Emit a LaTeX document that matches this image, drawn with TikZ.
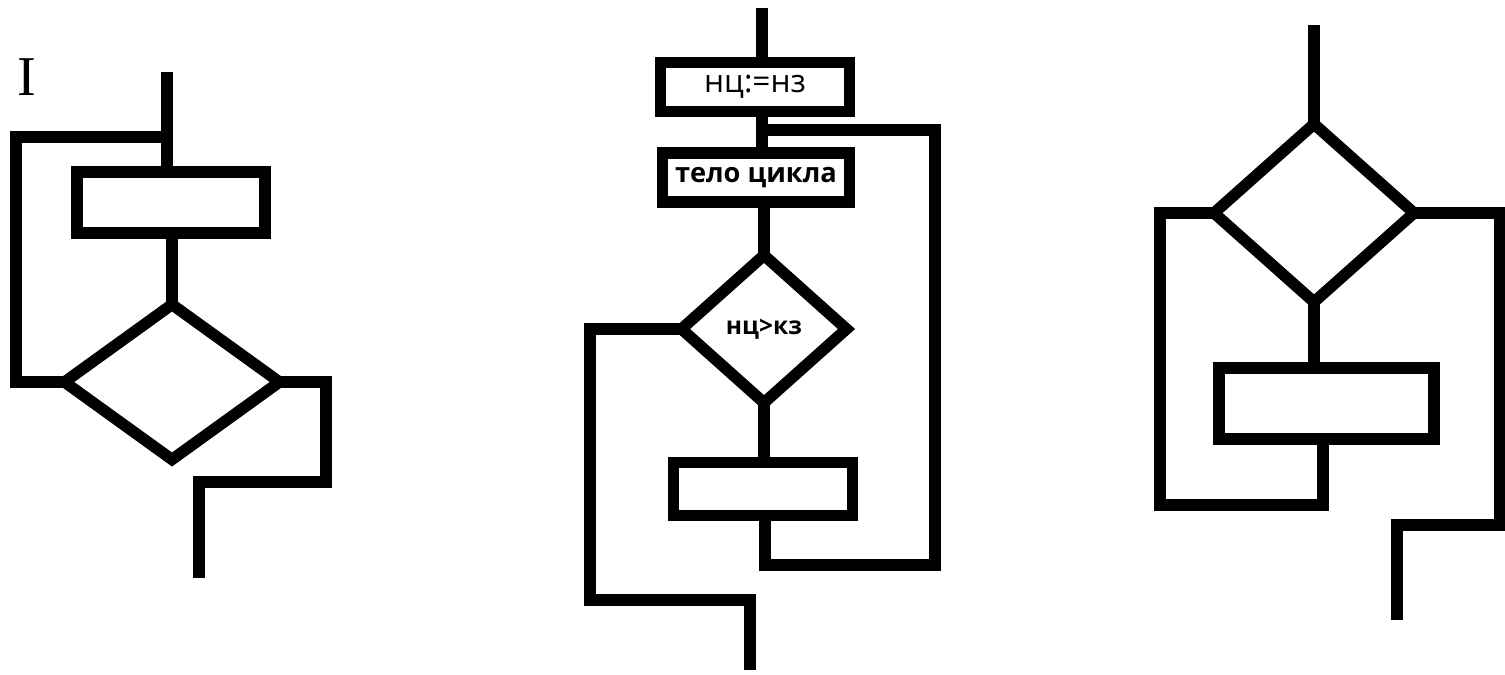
\documentclass[tikz,border=0pt]{standalone}
\usepackage{fontspec}
\setmainfont{Open Sans}
\newfontfamily\romanI{Liberation Serif}
\usetikzlibrary{shapes.geometric}

\begin{document}
\begin{tikzpicture}[x=0.02cm, y=-0.02cm, line width=6.5pt, line join=miter,
    block/.style={draw, rectangle, inner sep=0pt},
    cond/.style={draw, diamond, inner sep=0pt, outer sep=0pt}]
  \useasboundingbox (0,0) rectangle (1505,674);

  % Number
  \node[font=\romanI\fontsize{32}{32}\selectfont] (num) at (27,77) {I};

  % First scheme
  \node[block, minimum width=3.76cm, minimum height=1.22cm] (r1) at (171,202.5) {};
  \node[cond, minimum width=4.3cm, minimum height=3.1cm] (d1) at (172,382) {};
  \coordinate (in1) at (167,72);
  \coordinate (j1) at (167,137);
  \coordinate (l1) at (16,137);
  \coordinate (e1) at (326,482);
  \coordinate (e2) at (199,482);
  \coordinate (out1) at (199,578);

  \draw (in1) -- (r1.north -| in1);
  \draw (j1) -- (l1) |- (d1.west);
  \draw (r1.south -| d1) -- (d1.north);
  \draw (d1.east) -| (e1) -- (e2) -- (out1);

  % Second scheme
  \node[block, minimum width=3.78cm, minimum height=0.98cm,
        font=\fontsize{18}{18}\selectfont] (b1) at (755,87) {нц:=нз};
  \node[block, minimum width=3.74cm, minimum height=0.98cm,
        font=\bfseries\fontsize{15.5}{15.5}\selectfont] (b2) at (756,177.5) {тело цикла};
  \node[cond, minimum width=3.3cm, minimum height=2.95cm,
        font=\bfseries\fontsize{14}{14}\selectfont] (d2) at (764,329) {нц>кз};
  \node[block, minimum width=3.58cm, minimum height=1.06cm] (b3) at (763,489) {};
  \coordinate (in2) at (762,8);
  \coordinate (j2) at (762,130);
  \coordinate (l2) at (935,130);
  \coordinate (l3) at (935,565);
  \coordinate (l4) at (765,565);
  \coordinate (e3) at (590,600);
  \coordinate (e4) at (750,600);
  \coordinate (out2) at (750,670);

  \draw (in2) -- (b1.north -| in2);
  \draw (b1.south -| in2) -- (b2.north -| in2);
  \draw (j2) -- (l2) -- (l3) -- (l4) -- (b3.south -| l4);
  \draw (b2.south -| d2) -- (d2.north);
  \draw (d2.south) -- (b3.north -| d2);
  \draw (d2.west) -| (e3) -- (e4) -- (out2);

  % Third scheme
  \node[cond, minimum width=4.0cm, minimum height=3.56cm] (d3) at (1314,213) {};
  \node[block, minimum width=4.3cm, minimum height=1.42cm] (b4) at (1326.5,403.5) {};
  \coordinate (in3) at (1314,25);
  \coordinate (k1) at (1323,505);
  \coordinate (k2) at (1160,505);
  \coordinate (e5) at (1500,525);
  \coordinate (e6) at (1397,525);
  \coordinate (out3) at (1397,620);

  \draw (in3) -- (d3.north);
  \draw (d3.south) -- (b4.north -| d3);
  \draw (b4.south -| k1) -- (k1) -- (k2) |- (d3.west);
  \draw (d3.east) -| (e5) -- (e6) -- (out3);
\end{tikzpicture}
\end{document}
